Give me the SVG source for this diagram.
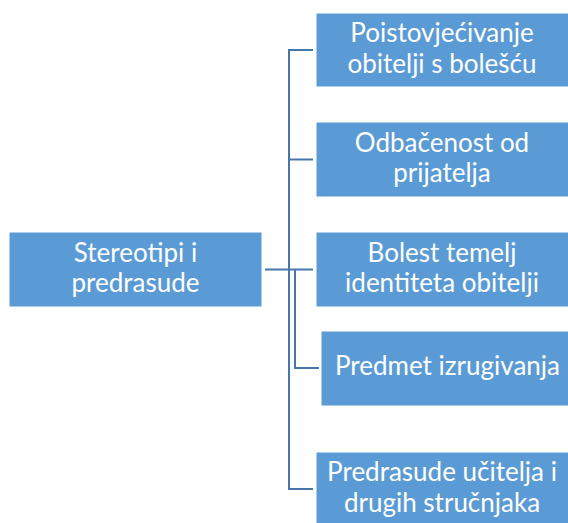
<svg xmlns="http://www.w3.org/2000/svg" width="568" height="523" viewBox="0 0 568 523">
<style>
.box{fill:#5B9BD5;stroke:#ffffff;stroke-width:1}
.t{font-family:Lato,"Liberation Sans",sans-serif;font-size:26px;fill:#ffffff;text-anchor:middle}
.c{fill:none;stroke:#4677AB;stroke-width:2}
</style>
<rect width="568" height="523" fill="#ffffff"/>
<g id="connectors">
<path class="c" d="M265,269.5 H313"/>
<path class="c" d="M313,50 H289 V489 H313"/>
<path class="c" d="M289,159.5 H313"/>
<path class="c" d="M295,269.5 V368 H319"/>
</g>
<g id="root">
<rect class="box" x="9" y="232" width="253" height="75"/>
<text class="t" x="135.5" y="261.5">Stereotipi i</text>
<text class="t" x="135.5" y="291.5">predrasude</text>
</g>
<g id="n1">
<rect class="box" x="316" y="13" width="256" height="74"/>
<text class="t" x="442" y="42">Poistovjećivanje</text>
<text class="t" x="442" y="73">obitelji s bolešću</text>
</g>
<g id="n2">
<rect class="box" x="316" y="122" width="256" height="75"/>
<text class="t" x="442" y="151.5">Odbačenost od</text>
<text class="t" x="442" y="182">prijatelja</text>
</g>
<g id="n3">
<rect class="box" x="316" y="232" width="256" height="75"/>
<text class="t" x="442" y="261.5">Bolest temelj</text>
<text class="t" x="442" y="292">identiteta obitelji</text>
</g>
<g id="n4">
<rect class="box" x="321" y="331" width="256" height="75"/>
<text class="t" x="447.5" y="375">Predmet izrugivanja</text>
</g>
<g id="n5">
<rect class="box" x="316" y="452" width="256" height="75"/>
<text class="t" x="442" y="481">Predrasude učitelja i</text>
<text class="t" x="442" y="511.5">drugih stručnjaka</text>
</g>
</svg>
